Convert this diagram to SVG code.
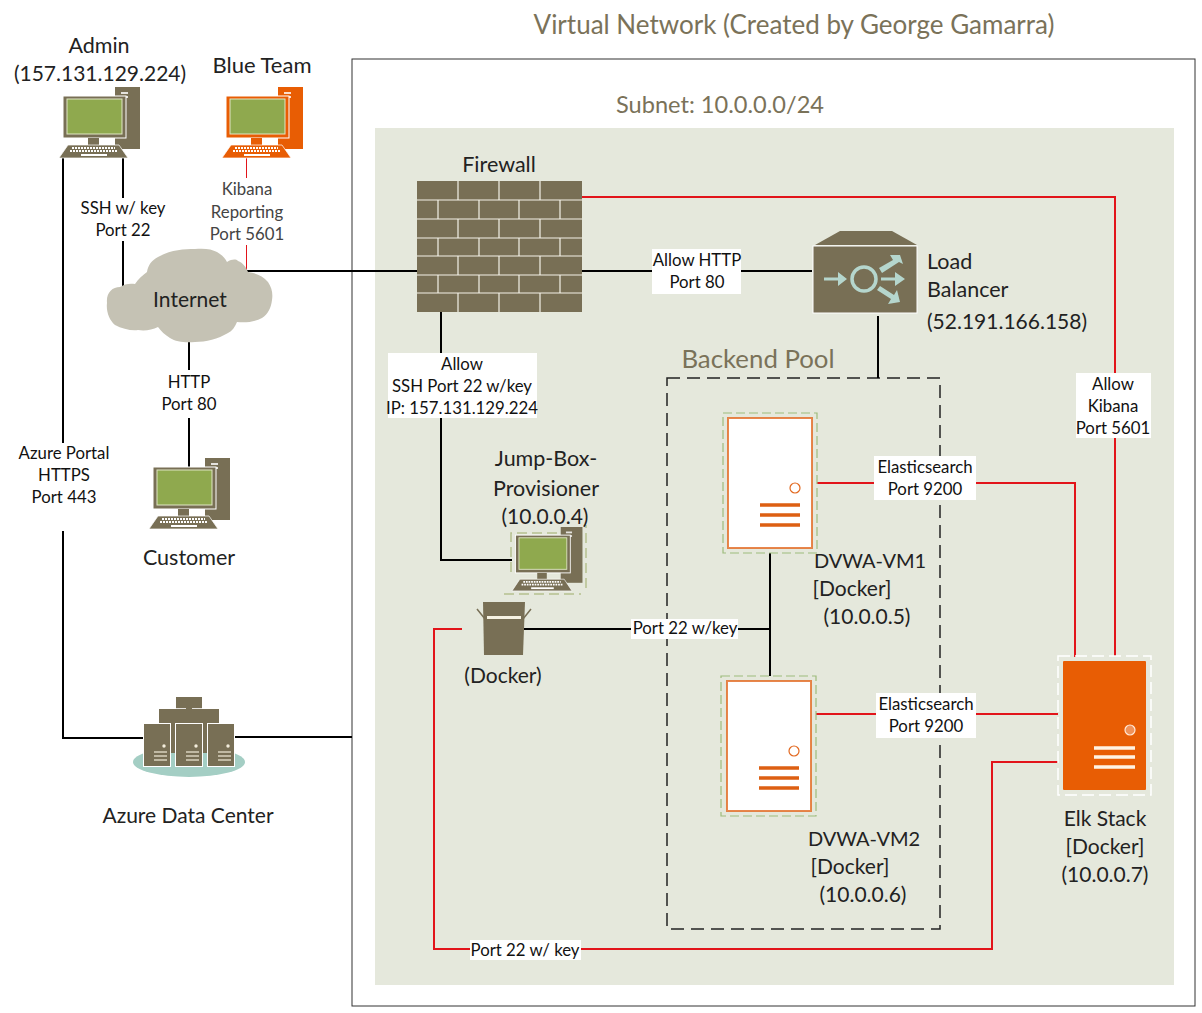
<svg xmlns="http://www.w3.org/2000/svg" xmlns:xlink="http://www.w3.org/1999/xlink" width="1202" height="1013" viewBox="0 0 1202 1013">
<style>
text{font-family:"Lato","Carlito","Open Sans",sans-serif;fill:#222;text-anchor:middle}
.l{font-size:21px}
.m{font-size:21.5px}
.s{font-size:16.8px;fill:#111}
.b{fill:none;stroke:#000;stroke-width:2}
.r{fill:none;stroke:#e2141a;stroke-width:2}
.w{fill:#fff}
.br{fill:#786f55}
.st{fill:#fff;stroke:#e2681f;stroke-width:2}
.bar{stroke:#dd5f12;stroke-width:3.5}
.wl{stroke:#f4f2e8;stroke-width:1.2}
</style>
<defs>
<symbol id="pc" viewBox="0 0 82 71" width="82" height="71" overflow="visible">
<rect x="56" y="0" width="25" height="62" fill="currentColor"/>
<rect x="62" y="5" width="7" height="2" fill="#fff" opacity=".8"/><rect x="62" y="9" width="7" height="2" fill="#fff" opacity=".8"/>
<rect x="4" y="9" width="63" height="42" fill="currentColor" stroke="#fff" stroke-width="1"/>
<rect x="8" y="12" width="55" height="35" fill="#8fa94e" stroke="#dfe6c4" stroke-width="1"/>
<rect x="29" y="51" width="11" height="7" fill="currentColor"/>
<path d="M9 58H60L69 71H0Z" fill="currentColor" stroke="#fff" stroke-width=".7"/>
<path d="M13 61H56M11 64H58" stroke="#fff" stroke-width="2" stroke-dasharray="2 1"/>
<rect x="22" y="67" width="26" height="2" fill="#fff"/>
</symbol>
<symbol id="sv" viewBox="0 0 28 44" width="28" height="44">
<rect x=".5" y=".5" width="27" height="43" class="br" stroke="#fff"/>
<circle cx="21" cy="23" r="1.7" fill="#f3eddc"/>
<path d="M11 29H24M11 33H24M11 37H24" stroke="#d8d2bd" stroke-width="1.7"/>
</symbol>
</defs>
<rect width="1202" height="1013" fill="#fff"/>
<g id="vnet"><rect x="352" y="59" width="843" height="947" fill="#fff" stroke="#333" stroke-width="1"/>
<text x="794" y="34" font-size="26" style="fill:#7a7259">Virtual Network (Created by George Gamarra)</text></g>
<g id="subnet"><rect x="375" y="128" width="799" height="857" fill="#e5e8dc"/>
<text x="720" y="113" font-size="23.6" style="fill:#7a7259">Subnet: 10.0.0.0/24</text></g>
<g id="backend-pool"><rect x="667" y="378" width="273" height="551" fill="none" stroke="#222" stroke-width="1.5" stroke-dasharray="13 7"/>
<text x="758" y="368" font-size="25.8" style="fill:#7a7259">Backend Pool</text></g>

<g id="connectors">
<path class="b" d="M123 158V287"/>
<path class="b" d="M63 158V738H145"/>
<path class="b" d="M235 737H352"/>
<path d="M246.5 158V270" fill="none" stroke="#e2141a" stroke-width="1"/>
<path class="b" d="M246 271H417"/>
<path class="b" d="M189 342V472"/>
<path class="b" d="M582 271H812"/>
<path class="b" d="M878 316V378"/>
<path class="b" d="M441 312V560H512"/>
<path class="b" d="M770 553V676"/>
<path class="b" d="M524 629H770"/>
<path class="r" d="M582 197H1115V656"/>
<path class="r" d="M817 483H1075V657"/>
<path class="r" d="M816 714H1058"/>
<path class="r" d="M462 629H434V949H992V762H1058"/>
</g>

<g id="conn-labels">
<rect class="w" x="80" y="198" width="88" height="43"/>
<text class="s" x="123" y="214">SSH w/ key</text><text class="s" x="123" y="236">Port 22</text>
<rect class="w" x="208" y="178" width="78" height="67"/>
<text class="s" x="247" y="195" style="fill:#444">Kibana</text><text class="s" x="247" y="218" style="fill:#444">Reporting</text><text class="s" x="247" y="240" style="fill:#444">Port 5601</text>
<rect class="w" x="14" y="443" width="100" height="88"/>
<text class="s" x="64" y="459">Azure Portal</text><text class="s" x="64" y="481">HTTPS</text><text class="s" x="64" y="503">Port 443</text>
<rect class="w" x="155" y="370" width="68" height="48"/>
<text class="s" x="189" y="388">HTTP</text><text class="s" x="189" y="410">Port 80</text>
<rect class="w" x="652" y="249" width="89" height="45"/>
<text class="s" x="697" y="266">Allow HTTP</text><text class="s" x="697" y="288">Port 80</text>
<rect class="w" x="388" y="353" width="149" height="65"/>
<text class="s" x="462" y="370">Allow</text><text class="s" x="462" y="392">SSH Port 22 w/key</text><text class="s" x="462" y="414">IP: 157.131.129.224</text>
<rect class="w" x="1076" y="373" width="75" height="65"/>
<text class="s" x="1113" y="390">Allow</text><text class="s" x="1113" y="412">Kibana</text><text class="s" x="1113" y="434">Port 5601</text>
<rect class="w" x="874" y="456" width="102" height="44"/>
<text class="s" x="925" y="473">Elasticsearch</text><text class="s" x="925" y="495">Port 9200</text>
<rect class="w" x="876" y="693" width="100" height="45"/>
<text class="s" x="926" y="710">Elasticsearch</text><text class="s" x="926" y="732">Port 9200</text>
<rect class="w" x="631" y="619" width="107" height="20"/>
<text class="s" x="685" y="634">Port 22 w/key</text>
<rect class="w" x="470" y="940" width="111" height="20"/>
<text class="s" x="525" y="956">Port 22 w/ key</text>
</g>

<g id="admin" color="#786f55"><use xlink:href="#pc" href="#pc" x="59" y="87"/>
<text class="m" x="99" y="53">Admin</text><text class="l" x="100" y="81">(157.131.129.224)</text></g>
<g id="blue-team" color="#e85d04"><use xlink:href="#pc" href="#pc" x="222" y="87"/>
<text x="262" y="73" font-size="22">Blue Team</text></g>
<g id="internet">
<path d="M107 303C106 293 112 287 120 287C124 284 130 283 135 284C138 279 143 275 147 272C148 265 152 260 158 257C170 250 184 249 195 249C204 248 212 249 217 252C222 255 225 258 227 262C232 259 236 259 238 261C243 263 246 267 248 272C256 273 263 276 268 282C272 288 273 294 272 300C271 308 268 314 262 318C255 322 245 323 237 322C235 327 232 331 228 333C218 339 206 342 195 342C186 343 176 342 170 338C165 335 161 331 158 327C152 330 145 331 138 330C132 331 122 329 115 325C109 320 106 311 107 303Z" fill="#c5c2b4"/>
<text x="190" y="307" font-size="21">Internet</text></g>
<g id="customer" color="#786f55"><use xlink:href="#pc" href="#pc" x="149" y="458"/>
<text class="m" x="189" y="565">Customer</text></g>
<g id="firewall">
<rect x="417" y="181" width="165" height="131" class="br"/>
<path class="wl" d="M417 200H582M417 219H582M417 238H582M417 256H582M417 275H582M417 293H582"/>
<path class="wl" d="M458 181V200M499 181V200M540 181V200M438 200V219M479 200V219M519 200V219M560 200V219M458 219V238M499 219V238M540 219V238M438 238V256M479 238V256M519 238V256M560 238V256M458 256V275M499 256V275M540 256V275M438 275V293M479 275V293M519 275V293M560 275V293M458 293V312M499 293V312M540 293V312"/>
<text class="m" x="499" y="172">Firewall</text></g>
<g id="load-balancer">
<path d="M840 231H892L917 245H815Z" class="br"/>
<rect x="813" y="246" width="104" height="67" class="br" stroke="#fff" stroke-width="1"/>
<circle cx="864" cy="279" r="12" fill="none" stroke="#b5d6cd" stroke-width="3.5"/>
<g fill="#b5d6cd"><path d="M824 277.5H838V272L847 279L838 286V280.5H824Z"/>
<path d="M879 268L893 260L890 255L900 255L903 264L899 262L882 273Z" />
<path d="M881 277.5H895V272L905 279L895 286V280.5H881Z"/>
<path d="M877 290L880 286L894 295L897 290L900 302L888 304L891 299Z"/></g>
<text class="m" x="927" y="269" style="text-anchor:start">Load</text><text class="m" x="927" y="297" style="text-anchor:start">Balancer</text><text class="l" x="927" y="329" style="text-anchor:start">(52.191.166.158)</text></g>
<g id="jump-box" color="#786f55">
<path d="M557 533H511V577M504 594H581M586 588V525" fill="none" stroke="#b5c08e" stroke-width="1.5" stroke-dasharray="10 5"/>
<use xlink:href="#pc" href="#pc" transform="translate(512 527) scale(.87 .9)"/>
<text class="m" x="546" y="466">Jump-Box-</text><text class="m" x="546" y="496">Provisioner</text><text class="l" x="545" y="524">(10.0.0.4)</text></g>
<g id="docker">
<path d="M483 602H525L523 655H484Z" class="br"/>
<rect x="487" y="616" width="34" height="3" fill="#f6f2e2"/>
<path d="M477 609L485 619M531 609L523 619" stroke="#786f55" stroke-width="1.5"/>
<text class="l" x="503" y="683">(Docker)</text></g>
<g id="dvwa-vm1">
<rect x="723" y="413" width="94" height="140" fill="none" stroke="#9dbb7c" stroke-width="1.2" stroke-dasharray="9 4"/>
<rect x="728" y="418" width="84" height="130" class="st" stroke-opacity=".8"/>
<circle cx="795" cy="488" r="5" fill="#fff" stroke="#e2681f" stroke-width="1.2"/>
<path class="bar" d="M760 505H800M760 515H800M760 525H800"/>
<text x="870" y="568" font-size="20">DVWA-VM1</text><text class="l" x="852" y="596">[Docker]</text><text class="l" x="867" y="624">(10.0.0.5)</text></g>
<g id="dvwa-vm2">
<rect x="721" y="676" width="95" height="140" fill="none" stroke="#9dbb7c" stroke-width="1.2" stroke-dasharray="9 4"/>
<rect x="727" y="681" width="84" height="130" class="st" stroke-opacity=".8"/>
<circle cx="794" cy="751" r="5" fill="#fff" stroke="#e2681f" stroke-width="1.2"/>
<path class="bar" d="M759 768H799M759 778H799M759 788H799"/>
<text x="864" y="846" font-size="20">DVWA-VM2</text><text class="l" x="850" y="874">[Docker]</text><text class="l" x="863" y="902">(10.0.0.6)</text></g>
<g id="elk-stack">
<rect x="1058" y="656" width="93" height="139" fill="none" stroke="#fff" stroke-width="1.5" stroke-dasharray="12 5"/>
<rect x="1063" y="661" width="83" height="129" rx="1" fill="#e85d04"/>
<circle cx="1130" cy="730" r="5" fill="#f0925a" stroke="#ffe9d8" stroke-width="1.2"/>
<path d="M1094 748H1135M1094 757H1135M1094 767H1135" stroke="#fff3e4" stroke-width="3.5"/>
<text class="l" x="1105" y="826">Elk Stack</text><text class="l" x="1105" y="854">[Docker]</text><text class="l" x="1105" y="882">(10.0.0.7)</text></g>
<g id="azure">
<ellipse cx="189" cy="762" rx="56" ry="15" fill="#a4cec4"/>
<rect x="176" y="697" width="26" height="30" class="br"/>
<rect x="159" y="709" width="27" height="44" class="br"/>
<rect x="192" y="709" width="27" height="44" class="br"/>
<path d="M159 708.5H186M192 708.5H219" stroke="#fff" stroke-width=".8"/>
<use xlink:href="#sv" href="#sv" x="143" y="723"/><use xlink:href="#sv" href="#sv" x="175" y="723"/><use xlink:href="#sv" href="#sv" x="207" y="723"/>
<text class="l" x="188" y="823">Azure Data Center</text></g>
</svg>
